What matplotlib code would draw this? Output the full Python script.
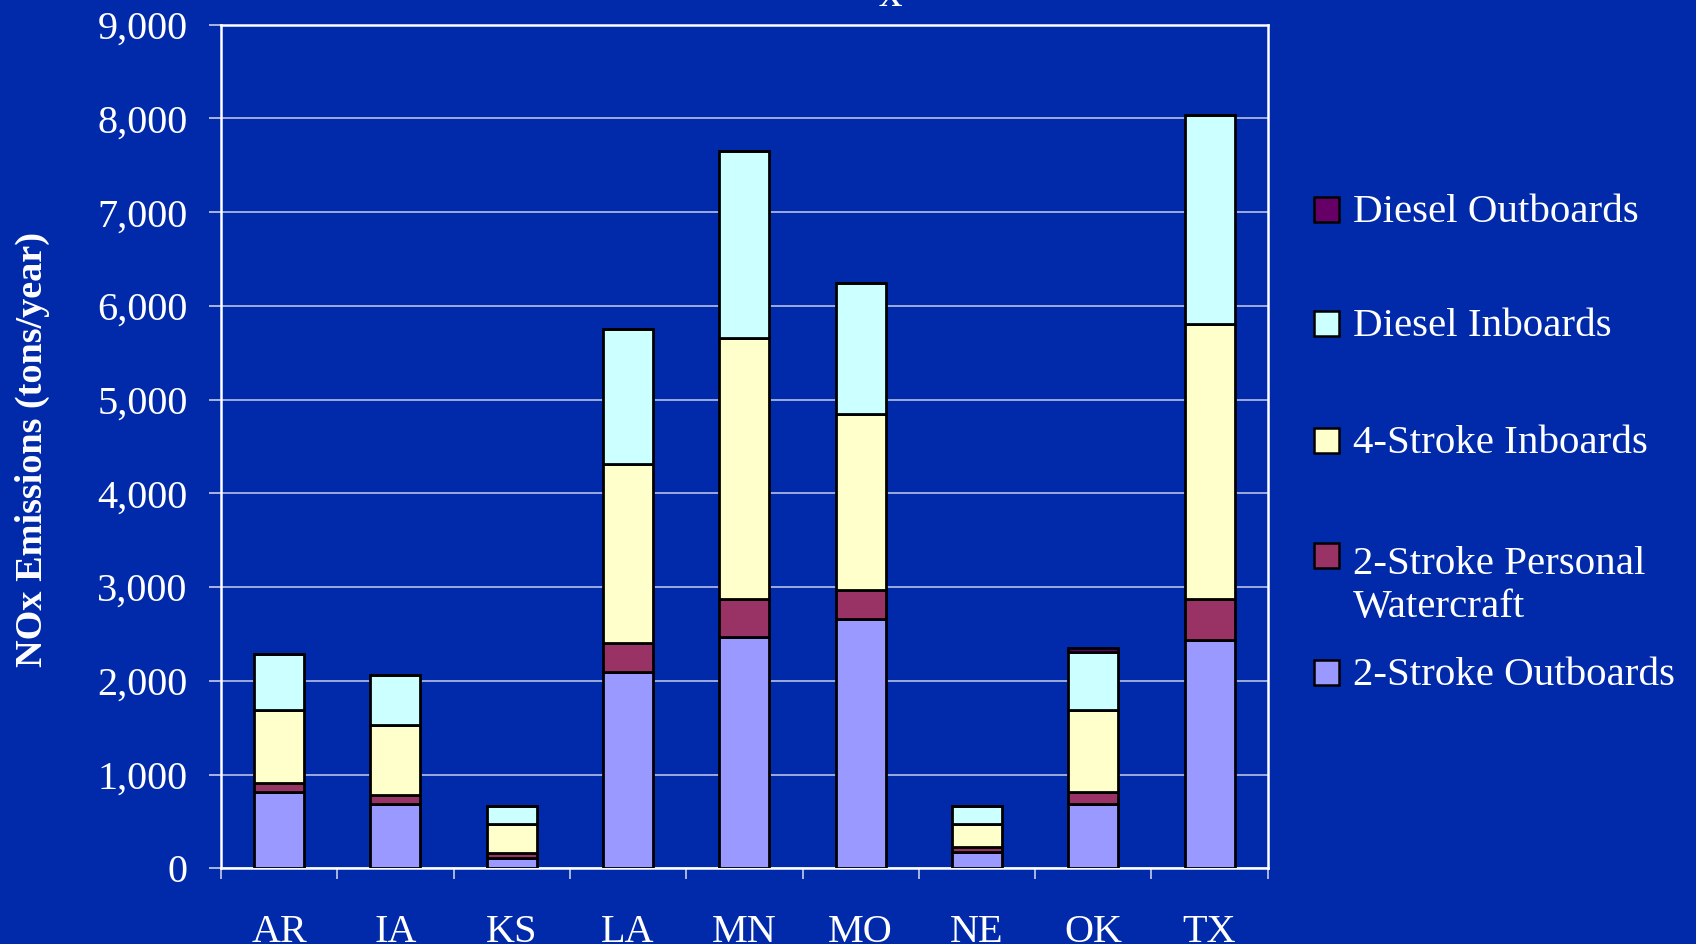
import numpy as np
import matplotlib.pyplot as plt
from matplotlib.patches import Rectangle

plt.rcParams['font.family'] = ['Liberation Serif', 'DejaVu Serif']

states = ['AR', 'IA', 'KS', 'LA', 'MN', 'MO', 'NE', 'OK', 'TX']

# NOx emissions, tons/year, per engine category
two_stroke_outboards = [813, 685, 115, 2091, 2467, 2656, 173, 685, 2434]
two_stroke_pwc = [96, 99, 47, 316, 406, 313, 49, 128, 439]
four_stroke_inboards = [783, 747, 313, 1906, 2780, 1874, 253, 879, 2939]
diesel_inboards = [594, 534, 185, 1436, 2002, 1404, 185, 615, 2221]
diesel_outboards = [0, 0, 0, 0, 0, 0, 0, 43, 0]

series = [
    ('2-Stroke Outboards', two_stroke_outboards, '#9999FF'),
    ('2-Stroke Personal\nWatercraft', two_stroke_pwc, '#993366'),
    ('4-Stroke Inboards', four_stroke_inboards, '#FFFFCC'),
    ('Diesel Inboards', diesel_inboards, '#CCFFFF'),
    ('Diesel Outboards', diesel_outboards, '#660066'),
]

BG = '#002AAA'

fig = plt.figure(figsize=(16.96, 9.44), dpi=100, facecolor=BG)
ax = fig.add_axes([0.1303, 0.0802, 0.6172, 0.8936], facecolor=BG)

x = np.arange(len(states))
bottom = np.zeros(len(states))
for name, vals, color in series:
    vals = np.array(vals, dtype=float)
    ax.bar(x, vals, 0.43, bottom=bottom, color=color, edgecolor='black',
           linewidth=2.0, zorder=3)
    bottom += vals

ax.set_xlim(-0.5, len(states) - 0.5)
ax.set_ylim(0, 9000)
ax.set_yticks(np.arange(0, 9001, 1000))
ax.set_yticklabels([f'{v:,}' for v in range(0, 9001, 1000)])
ax.yaxis.grid(True, color='#C8CCE8', linewidth=1.1, zorder=0)

# tick marks sit between the categories, labels under each bar
ax.set_xticks(np.arange(-0.5, len(states)), minor=False)
ax.set_xticklabels([])
ax.set_xticks(x, minor=True)
ax.set_xticklabels(states, minor=True)
ax.tick_params(axis='x', which='major', direction='out', length=8,
               width=1.2, color='#C8CCE8')
ax.tick_params(axis='x', which='minor', length=0, pad=33,
               labelsize=29, labelcolor='white')
ax.tick_params(axis='y', direction='out', length=9, width=1.2,
               color='#C8CCE8', pad=15, labelsize=29, labelcolor='white')

for s in ax.spines.values():
    s.set_color('white')
    s.set_linewidth(1.8)

ax.set_ylabel('NOx Emissions (tons/year)', color='white', fontsize=27.5,
              fontweight='bold')
ax.yaxis.set_label_coords(-0.163, 0.497)

# chart title runs off the top edge, only the subscript shows
fig.text(890 / 1696, 1 - 6 / 944, 'x', color='white', fontsize=34,
         ha='center', va='baseline')

# legend, top entry first; baseline given for the last text line
legend_rows = [
    ('Diesel Outboards', '#660066', 222, 222),
    ('Diesel Inboards', '#CCFFFF', 336, 336),
    ('4-Stroke Inboards', '#FFFFCC', 453, 453),
    ('2-Stroke Personal\nWatercraft', '#993366', 568, 617),
    ('2-Stroke Outboards', '#9999FF', 685, 685),
]
W, H = 1696, 944
for label, color, box_bottom, base in legend_rows:
    fig.add_artist(Rectangle((1314 / W, 1 - box_bottom / H), 25 / W, 25 / H,
                             transform=fig.transFigure, facecolor=color,
                             edgecolor='black', linewidth=1.8))
    fig.text(1353 / W, 1 - base / H, label, color='white', fontsize=29.5,
             ha='left', va='baseline', linespacing=1.2)

fig.savefig('out.png', dpi=100, facecolor=BG)
